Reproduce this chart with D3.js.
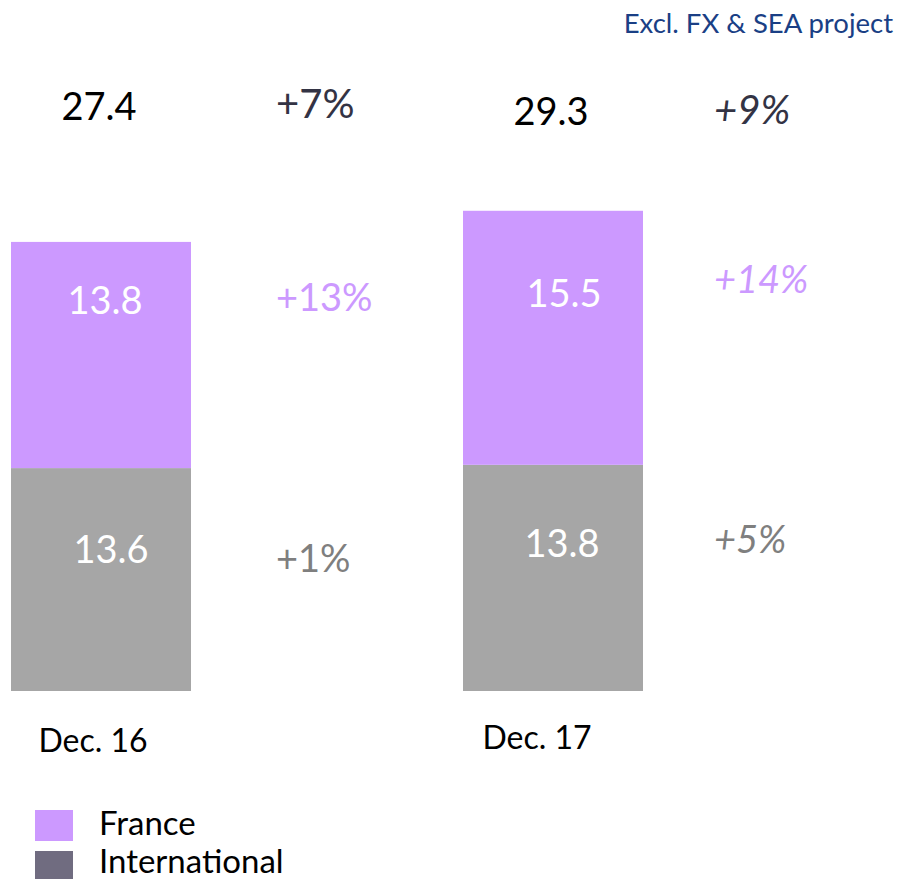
<!DOCTYPE html>
<html>
<head>
<meta charset="utf-8">
<script src="https://cdn.jsdelivr.net/npm/d3@7"></script>
<style>
  html, body { margin: 0; padding: 0; background: #fff; }
  svg { display: block; }
  text { font-family: Lato, "Open Sans", sans-serif; }
</style>
</head>
<body>
<svg id="chart" width="900" height="879"></svg>
<script>
// ---- data ----
const categories = ["Dec. 16", "Dec. 17"];
const seriesNames = ["International", "France"];
const international = [13.6, 13.8];
const france = [13.8, 15.5];
const totals = [27.4, 29.3];
const totalGrowth = ["+7%", "+9%"];
const franceGrowth = ["+13%", "+14%"];
const internationalGrowth = ["+1%", "+5%"];
const subtitle = "Excl. FX & SEA project";

// ---- styles ----
const colors = { France: "#cc99ff", International: "#a6a6a6" };
const legendColors = { France: "#cc99ff", International: "#706c80" };
const growthColors = { total: "#333344", France: "#cc99ff", International: "#7f7f7f" };

const svg = d3.select("#chart");

const x = d3.scaleBand()
  .domain(categories)
  .range([11, 643])
  .paddingInner(1 - 180 / 452)
  .paddingOuter(0);

const y = d3.scaleLinear().domain([0, 30]).range([691, 691 - 16.39 * 30]);

const rows = categories.map((c, i) => ({
  cat: c, i,
  International: international[i],
  France: france[i]
}));
const stacked = d3.stack().keys(seriesNames)(rows);

// bars
svg.append("g").selectAll("g")
  .data(stacked)
  .join("g")
  .attr("fill", d => colors[d.key])
  .selectAll("rect")
  .data(d => d)
  .join("rect")
  .attr("x", d => x(d.data.cat))
  .attr("width", x.bandwidth())
  .attr("y", d => y(d[1]))
  .attr("height", d => y(d[0]) - y(d[1]));

// in-bar value labels
const inOffsets = { France: [-41, -31], International: [-17, -21] };
const inDx = { France: [4, 11], International: [10, 9] };
stacked.forEach(layer => {
  svg.append("g").selectAll("text")
    .data(layer)
    .join("text")
    .attr("x", (d, i) => x(d.data.cat) + x.bandwidth() / 2 + inDx[layer.key][i])
    .attr("y", (d, i) => (y(d[0]) + y(d[1])) / 2 + inOffsets[layer.key][i])
    .attr("text-anchor", "middle")
    .attr("fill", "#ffffff")
    .attr("font-size", 38)
    .text(d => d.data[layer.key].toFixed(1));
});

// totals above
svg.append("g").selectAll("text")
  .data(categories)
  .join("text")
  .attr("x", d => x(d) + x.bandwidth() / 2 - 2)
  .attr("y", (d, i) => i === 0 ? 120 : 125)
  .attr("text-anchor", "middle")
  .attr("fill", "#000")
  .attr("font-size", 38)
  .text((d, i) => totals[i].toFixed(1));

// growth labels
const growthX = i => x(categories[i]) + x.bandwidth() + (i === 0 ? 85 : 71);
function growthRow(labels, color, ys, size) {
  svg.append("g").selectAll("text")
    .data(labels)
    .join("text")
    .attr("x", (d, i) => growthX(i))
    .attr("y", (d, i) => ys[i])
    .attr("fill", color)
    .attr("font-size", size)
    .attr("font-style", (d, i) => i === 1 ? "italic" : "normal")
    .text(d => d);
}
growthRow(totalGrowth, growthColors.total, [118, 124], 40);
growthRow(franceGrowth, growthColors.France, [311, 293], 38);
growthRow(internationalGrowth, growthColors.International, [572, 553], 38);

// category labels
const catDx = [-8, -16];
svg.append("g").selectAll("text")
  .data(categories)
  .join("text")
  .attr("x", (d, i) => x(d) + x.bandwidth() / 2 + catDx[i])
  .attr("y", (d, i) => i === 0 ? 752 : 749)
  .attr("text-anchor", "middle")
  .attr("fill", "#000")
  .attr("font-size", 32)
  .text(d => d);

// subtitle
svg.append("text")
  .attr("x", 893)
  .attr("y", 33)
  .attr("text-anchor", "end")
  .attr("fill", "#1a3f85")
  .attr("font-size", 27.5)
  .text(subtitle);

// legend
const legendItems = ["France", "International"];
const lg = svg.append("g").selectAll("g")
  .data(legendItems)
  .join("g")
  .attr("transform", (d, i) => `translate(35, ${810 + i * 41})`);
lg.append("rect")
  .attr("width", 38)
  .attr("height", 31)
  .attr("fill", d => legendColors[d]);
lg.append("text")
  .attr("x", 64)
  .attr("y", (d, i) => i === 0 ? 25 : 22)
  .attr("fill", "#000")
  .attr("font-size", 33)
  .text(d => d);
</script>
</body>
</html>
